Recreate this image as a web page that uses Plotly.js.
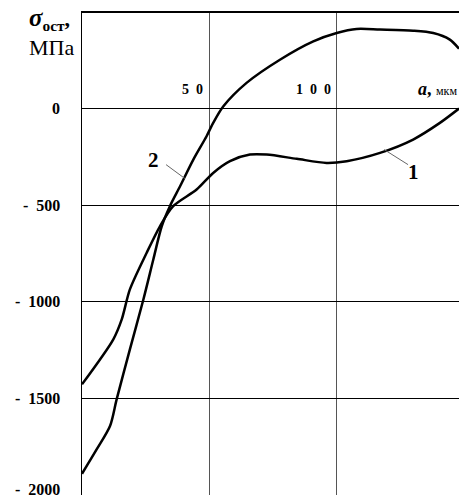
<!DOCTYPE html>
<html>
<head>
<meta charset="utf-8">
<script src="https://cdn.plot.ly/plotly-3.0.1.min.js"></script>
<style>html,body{margin:0;padding:0;background:#fff;}#chart{width:459px;height:495px;}</style>
</head>
<body>
<div id="chart"></div>
<script>
// depth a, мкм
const depth1 = [0, 12.3, 15.6, 18.8, 25.4, 30.6, 35.8, 45, 51.5, 58.1, 65.9, 72.5, 84.3, 96, 103.9, 117, 130, 140.5, 148];
// curve 1, σ_ост, МПа
const sigma1 = [-1427, -1194, -1091, -936, -746, -609, -505, -419, -333, -272, -238, -238, -260, -281, -272, -229, -160, -74, 0];
const depth2 = [0, 5.8, 11, 13.6, 18.8, 24.1, 28, 31.3, 34.5, 38.5, 43.7, 48.9, 51.5, 55.5, 64.6, 77.7, 90.8, 100, 107.8, 117, 130, 137.9, 144.4, 148];
// curve 2, σ_ост, МПа
const sigma2 = [-1890, -1763, -1643, -1505, -1246, -988, -781, -609, -505, -402, -264, -143, -74, 12, 133, 253, 348, 391, 412, 409, 403, 391, 357, 310];
const xTicks = [50, 100];
const xTickText = ['5\u00a0\u00a00', '1\u00a0\u00a00\u00a0\u00a00'];
const yTicks = [0, -500, -1000, -1500, -2000];
const yTickText = ['0', '-\u00a0\u00a0500', '-\u00a0\u00a01000', '-\u00a0\u00a01500', '-\u00a0\u00a02000'];
const yTop = 500;

const serif = 'Liberation Serif, Times New Roman, serif';
const lineStyle = {color: '#000', width: 2.5, shape: 'spline', smoothing: 0.8};

const traces = [
  {x: depth1, y: sigma1, mode: 'lines', line: lineStyle, hoverinfo: 'skip'},
  {x: depth2, y: sigma2, mode: 'lines', line: lineStyle, hoverinfo: 'skip'}
];

const annotations = [];
yTicks.forEach((v, i) => {
  annotations.push({xref: 'paper', yref: 'y', x: -0.053, y: v, xanchor: 'right', yanchor: 'middle',
    yshift: v === -2000 ? 6 : 0,
    text: '<b>' + yTickText[i] + '</b>', showarrow: false, font: {family: serif, size: 16, color: '#000'}});
});
xTicks.forEach((v, i) => {
  annotations.push({xref: 'x', yref: 'y', x: v, y: 0, xanchor: 'right', yanchor: 'bottom',
    xshift: -4, yshift: 10,
    text: '<b>' + xTickText[i] + '</b>', showarrow: false, font: {family: serif, size: 14, color: '#000'}});
});
annotations.push({xref: 'paper', yref: 'y', x: 1, y: 0, xanchor: 'right', yanchor: 'bottom', yshift: 8,
  text: '<b><i>a</i>,</b> <span style="font-size:12px">мкм</span>', showarrow: false,
  font: {family: serif, size: 18, color: '#000'}});
annotations.push({xref: 'paper', yref: 'paper', x: -0.146, y: 1.02, xanchor: 'left', yanchor: 'top', align: 'left',
  text: '<b><i><span style="font-size:25px">σ</span></i><sub>ост</sub>,</b><br>МПа', showarrow: false,
  font: {family: serif, size: 22, color: '#000'}});
annotations.push({xref: 'x', yref: 'y', x: 27.9, y: -264, text: '<b>2</b>', showarrow: false,
  font: {family: serif, size: 21, color: '#000'}});
annotations.push({xref: 'x', yref: 'y', x: 130, y: -326, text: '<b>1</b>', showarrow: false,
  font: {family: serif, size: 21, color: '#000'}});

const shapes = [
  {type: 'line', xref: 'x', yref: 'y', x0: 33.0, y0: -290, x1: 40.4, y1: -362, line: {color: '#666', width: 1}},
  {type: 'line', xref: 'x', yref: 'y', x0: 118.6, y0: -212, x1: 128, y1: -290, line: {color: '#666', width: 1}},
  {type: 'line', xref: 'paper', yref: 'y', x0: 0, y0: yTop, x1: 1, y1: yTop, layer: 'above', line: {color: '#000', width: 1.8}}
];

const layout = {
  width: 459, height: 495,
  margin: {l: 82, r: 0, t: 12, b: 0},
  paper_bgcolor: '#fff', plot_bgcolor: '#fff',
  showlegend: false,
  xaxis: {range: [0, 148], tickvals: xTicks, showticklabels: false, ticks: '',
    showgrid: true, gridcolor: '#555', gridwidth: 1, zeroline: false,
    showline: true, mirror: true, linecolor: '#000', linewidth: 1.5, fixedrange: true},
  yaxis: {range: [-2000, yTop], tickvals: [-2000, -1500, -1000, -500, 0, 500], showticklabels: false, ticks: '',
    showgrid: true, gridcolor: '#000', gridwidth: 1.3, zeroline: false,
    showline: true, linecolor: '#000', linewidth: 1.3, fixedrange: true},
  annotations: annotations,
  shapes: shapes
};

Plotly.newPlot('chart', traces, layout, {displayModeBar: false, staticPlot: true});
</script>
</body>
</html>
